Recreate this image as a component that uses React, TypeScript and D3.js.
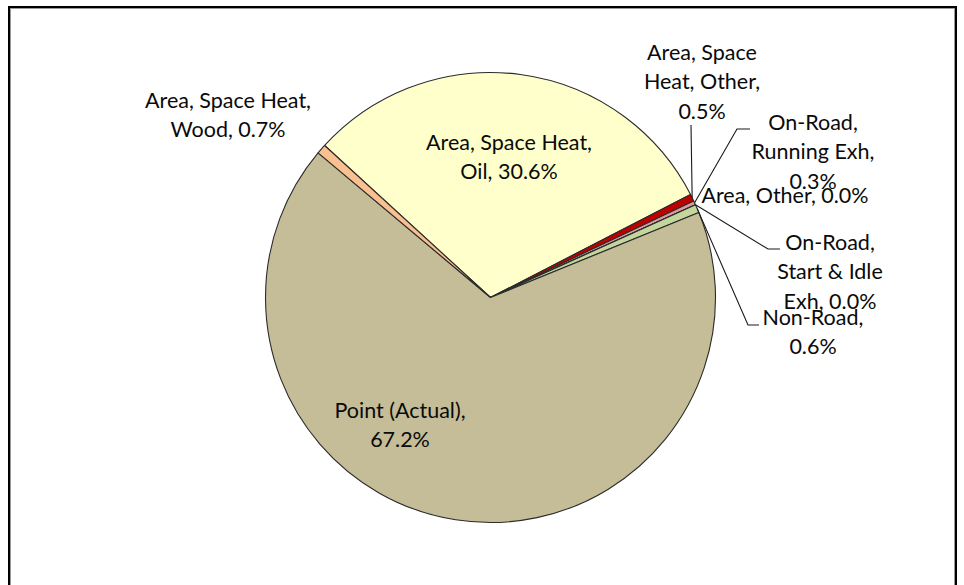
import React from "react";
import * as d3 from "d3";

// ---- data (clockwise order, starting with the Oil slice) ----
const categories = [
  "Area, Space Heat, Oil",
  "Area, Space Heat, Other",
  "On-Road, Running Exh",
  "Area, Other",
  "On-Road, Start & Idle Exh",
  "Non-Road",
  "Point (Actual)",
  "Area, Space Heat, Wood",
];
const shares = [30.6, 0.5, 0.3, 0.0, 0.0, 0.6, 67.2, 0.7];
// label text lines; {v} is replaced by the formatted share
const labelLines = [
  ["Area, Space Heat,", "Oil, {v}"],
  ["Area, Space", "Heat, Other,", "{v}"],
  ["On-Road,", "Running Exh,", "{v}"],
  ["Area, Other, {v}"],
  ["On-Road,", "Start & Idle", "Exh, {v}"],
  ["Non-Road,", "{v}"],
  ["Point (Actual),", "{v}"],
  ["Area, Space Heat,", "Wood, {v}"],
];
const colors = ["#FFFFCC", "#C00000", "#D99A9A", "#E6B9B8", "#B9CDE5", "#C3D69B", "#C4BD97", "#FAC090"];

// ---- layout ----
const W = 964;
const H = 585;
const cx = 490.5;
const cy = 297.5;
const R = 225;
const startDeg = -47.5;
const fontSize = 21.5;
const lineH = 29.3;
// label anchor (centre x, first baseline) relative to pie centre
const labelPos: [number, number][] = [
  [18.5, -147.5],
  [211.5, -237.5],
  [322.5, -167.5],
  [294.5, -94.5],
  [339.5, -47.5],
  [322.5, 27.5],
  [-90.5, 120.5],
  [-262.5, -189.5],
];
// leader line elbows relative to pie centre (null = no leader)
const leaders: ([number, number][] | null)[] = [
  null,
  [[200.5, -172.5]],
  [[246.5, -168.5], [259.5, -168.5]],
  null,
  [[277.5, -48.5], [289.5, -48.5]],
  [[257.5, 27.5], [268.5, 27.5]],
  null,
  null,
];

export default function App() {
  const pie = d3
    .pie<number>()
    .sort(null)
    .value((d) => d)
    .startAngle((startDeg * Math.PI) / 180)
    .endAngle((startDeg * Math.PI) / 180 + 2 * Math.PI);
  const arcs = pie(shares);
  const arcGen = d3.arc<d3.PieArcDatum<number>>().innerRadius(0).outerRadius(R);
  const fmt = (v: number) => d3.format(".1f")(v) + "%";
  const edgePoint = (a: d3.PieArcDatum<number>): [number, number] => {
    const m = (a.startAngle + a.endAngle) / 2;
    return [R * Math.sin(m), -R * Math.cos(m)];
  };
  const line = d3.line();

  return (
    <div style={{ position: "absolute", left: 0, top: 0, width: W, height: H, background: "#fff" }}>
      <svg width={W} height={H} style={{ display: "block" }}>
        <rect x={0} y={0} width={W} height={H} fill="#fff" />
        {/* chart frame */}
        <rect x={9} y={7} width={947} height={H + 20} fill="none" stroke="#000" strokeWidth={2} />
        <rect x={10.5} y={8.5} width={944} height={H + 20} fill="none" stroke="#9a9a9a" strokeWidth={1} />
        <g transform={`translate(${cx},${cy})`}>
          {arcs.map((a, i) => (
            <path
              key={categories[i]}
              d={arcGen(a) || ""}
              fill={colors[i]}
              stroke="#2b2b2b"
              strokeWidth={1.1}
              strokeLinejoin="round"
            />
          ))}
          {arcs.map((a, i) => {
            const l = leaders[i];
            if (!l) return null;
            const pts: [number, number][] = [edgePoint(a), ...l];
            return (
              <path
                key={"leader" + i}
                d={line(pts) || ""}
                fill="none"
                stroke="#1a1a1a"
                strokeWidth={1.1}
              />
            );
          })}
          {arcs.map((a, i) => (
            <text
              key={"label" + i}
              x={labelPos[i][0]}
              y={labelPos[i][1]}
              textAnchor="middle"
              fontFamily="Lato, 'Open Sans', sans-serif"
              fontSize={fontSize}
              fill="#0a0a0a"
            >
              {labelLines[i].map((t, j) => (
                <tspan key={j} x={labelPos[i][0]} y={labelPos[i][1] + j * lineH}>
                  {t.replace("{v}", fmt(shares[i]))}
                </tspan>
              ))}
            </text>
          ))}
        </g>
      </svg>
    </div>
  );
}
